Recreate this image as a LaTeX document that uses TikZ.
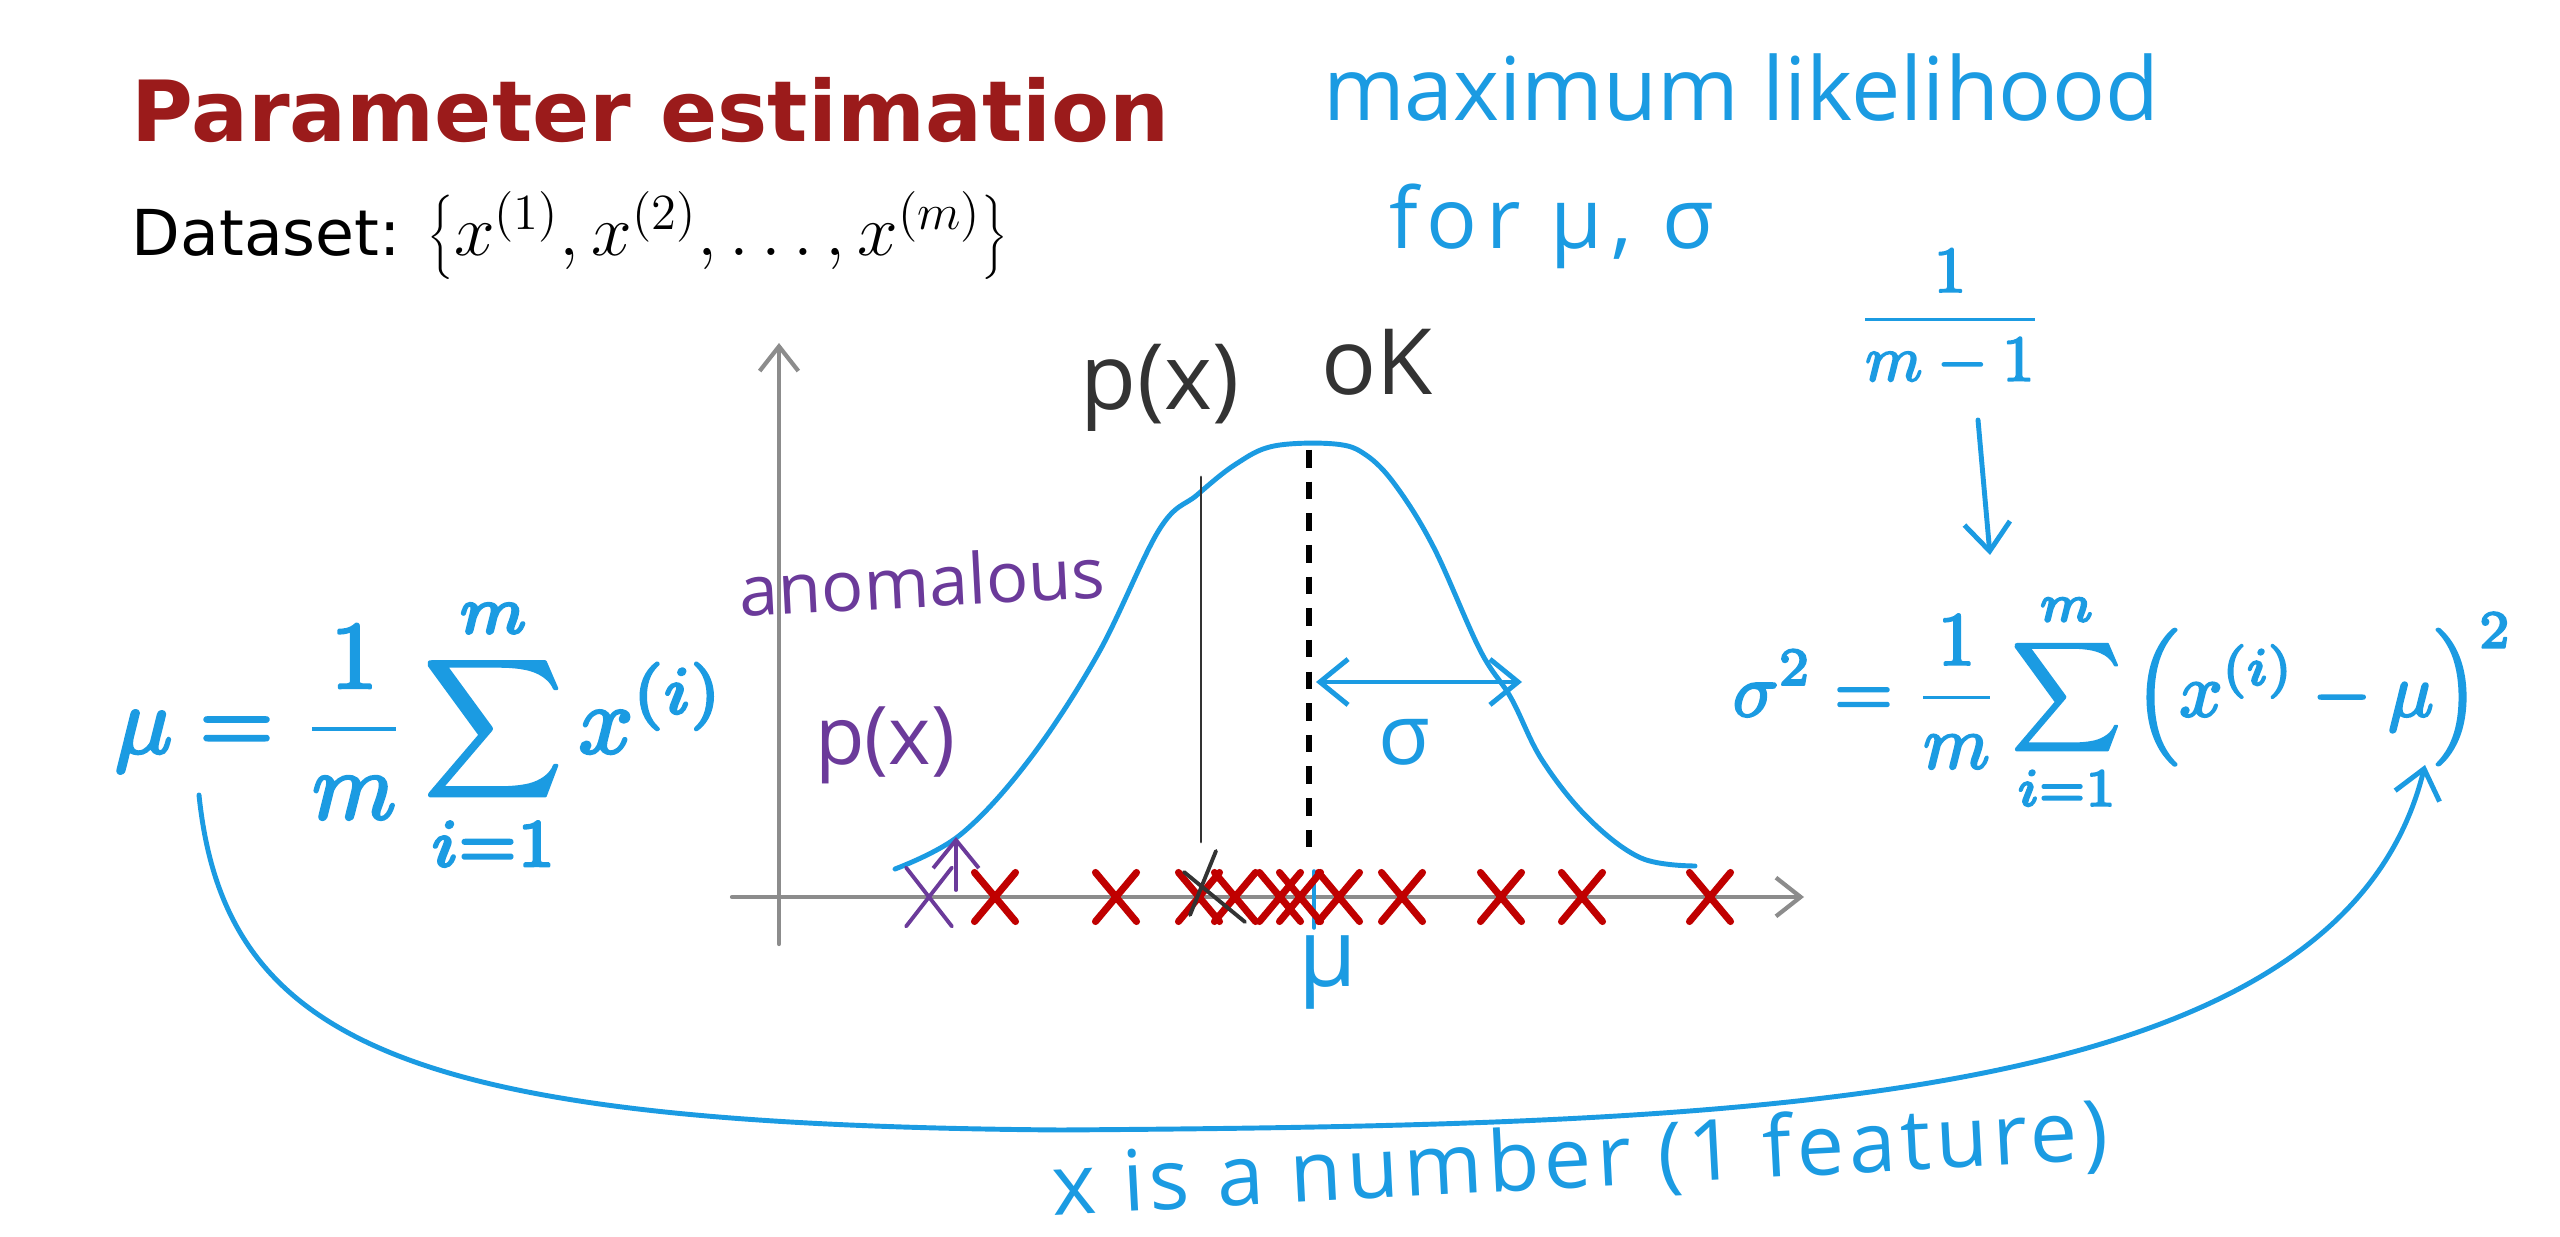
\documentclass[tikz,border=0pt]{standalone}
\usepackage{fontspec}
\setmainfont{DejaVu Sans}
\newfontfamily\handfont{Open Sans}
\usetikzlibrary{arrows.meta,shapes.misc}
\definecolor{titlered}{HTML}{9B1B1B}
\definecolor{penblue}{HTML}{1B9BE2}
\definecolor{penpurple}{HTML}{6B3A9A}
\definecolor{crossred}{HTML}{C00000}
\definecolor{axisgray}{HTML}{8C8C8C}
\newcommand\inkbold[1]{\special{pdf:literal direct 2 Tr 0.3 w}#1\special{pdf:literal direct 0 Tr}}

\begin{document}
\begin{tikzpicture}[x=0.01cm,y=-0.01cm,line cap=round,line join=round,
 hand/.style={font=\handfont\fontsize{#1}{#1}\selectfont,text=penblue,inner sep=0pt},
 hand/.default=26,
 inkb/.style={draw=penblue,line width=1.4pt},
 inkp/.style={draw=penpurple,line width=1.1pt},
 barb/.style={-{Straight Barb[length=8pt,width=13pt]}},
 axis/.style={draw=axisgray,line width=1.2pt,-{Straight Barb[length=7pt,width=11pt]}},
 pt/.style={cross out,draw=crossred,line width=2pt,minimum width=0.34cm,minimum height=0.42cm,inner sep=0pt}]
\useasboundingbox[fill=white] (0,0) rectangle (2560,1237);
\node[anchor=base west,inner sep=0pt,text=titlered,font=\fontsize{24}{28}\selectfont\bfseries] (title) at (131,142) {Parameter estimation};
\node[anchor=base west,inner sep=0pt,font=\fontsize{18}{22}\selectfont] (data) at (131,256) {Dataset: {\fontsize{19.5}{23}\selectfont$\left\{x^{(1)},x^{(2)},\dots,x^{(m)}\right\}$}};
\node[hand=25] (mlik) at (1741,88) {maximum likelihood};
\node[hand=24] (for) at (1552,226) {\addfontfeature{LetterSpace=10}for μ, σ};
\node[text=penblue,inner sep=0pt] (corr) at (1950,318) {\resizebox{1.85cm}{!}{\inkbold{$\displaystyle\frac{1}{m-1}$}}};
\node[text=penblue,inner sep=0pt] (muf) at (420,735) {\resizebox{6.1cm}{!}{\inkbold{$\displaystyle\mu=\frac{1}{m}\sum_{i=1}^{m}x^{(i)}$}}};
\node[text=penblue,inner sep=0pt] (sigf) at (2123,702) {\resizebox{7.8cm}{!}{\inkbold{$\displaystyle\sigma^2=\frac{1}{m}\sum_{i=1}^{m}\left(x^{(i)}-\mu\right)^2$}}};
\coordinate (cs) at (1978,420);
\coordinate (ce) at (1990,555);
\draw[inkb,barb] (cs) -- (ce);
% axes and data
\draw[axis] (779,944) -- (779,343);
\draw[axis] (732,897) -- (1804,897);
\draw[inkb] plot[smooth,tension=0.6] coordinates {(895,869) (960,835) (1029,760) (1098,654) (1159,530) (1197,495) (1236,464) (1274,446) (1335,444) (1366,455) (1396,486) (1434,548) (1480,650) (1511,698) (1542,760) (1588,818) (1641,858) (1695,866)};
\draw[line width=1.8pt,dash pattern=on 5pt off 4pt,line cap=butt] (1309,450) -- (1309,860);
\draw[black!80,line width=0.8pt] (1201,477) -- (1201,842);
\draw[penblue,line width=1pt] (1314,871) -- (1314,928);
\foreach \px [count=\k] in {995,1116,1199,1235,1280,1300,1339,1402,1501,1582,1710}
  \node[pt] (d\k) at (\px,897) {};
\draw[black!80,line width=1.1pt] (1184,872) -- (1245,922) (1216,851) -- (1190,915);
\node[cross out,draw=penpurple,line width=1.1pt,minimum width=0.42cm,minimum height=0.55cm,inner sep=0pt] (anx) at (929,897) {};
\draw[inkp,barb] (956,890) -- (956,837);
\coordinate (sl) at (1316,682);
\coordinate (sr) at (1522,682);
\draw[inkb,{Straight Barb[length=8pt,width=13pt]}-{Straight Barb[length=8pt,width=13pt]}] (sl) -- (sr);
\node[hand=24] (sig) at (1404,742) {σ};
\node[hand=27] (mu) at (1328,972) {μ};
\node[hand=26,text=black!80] (px) at (1160,388) {p(x)};
\node[hand=26,text=black!80] (ok) at (1377,362) {oK};
\node[hand=20,text=penpurple,rotate=3] (anom) at (922,581) {anomalous};
\node[hand=23,text=penpurple] (pxa) at (885,745) {p(x)};
% link mu to sigma^2
\coordinate (ms) at (199,795);
\coordinate (me) at (2425,765);
\draw[inkb,barb] (ms) .. controls (225,1050) and (420,1125) .. (1061,1130) .. controls (1750,1125) and (2340,1110) .. (me);
\node[hand=24,rotate=3] (xnum) at (1580,1162) {\addfontfeature{LetterSpace=6}x is a number (1 feature)};
\end{tikzpicture}
\end{document}
